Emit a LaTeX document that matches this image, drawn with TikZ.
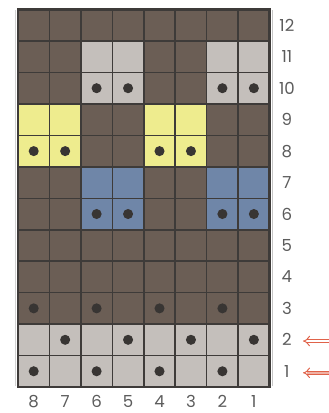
\documentclass[tikz,border=0pt]{standalone}
\usepackage{fontspec}
\setmainfont{Poppins}
\usetikzlibrary{arrows.meta}

\definecolor{barkbrown}{HTML}{6B5E55}
\definecolor{stonegray}{HTML}{C4BFBB}
\definecolor{lemon}{HTML}{EEEC8E}
\definecolor{slateblue}{HTML}{6F86A8}
\definecolor{gridink}{HTML}{3E3B39}
\definecolor{labelgray}{HTML}{5C5C5C}
\definecolor{arrowred}{HTML}{E0634A}

\tikzset{
  gridline/.style={gridink, line width=1.1pt},
  stitch/.style={fill=gridink!90!black},
  rowlabel/.style={text=labelgray, font=\fontsize{12}{14}\selectfont, inner sep=1pt, anchor=center},
  collabel/.style={text=labelgray, font=\fontsize{12}{14}\selectfont, inner sep=0.5pt, anchor=center},
  rowarrow/.style={arrowred, line width=0.7pt, double distance=1.9pt, -{Implies[length=5pt, width=9pt]}}
}

\begin{document}
\begin{tikzpicture}[scale=0.8]
    \useasboundingbox (-0.572,-0.827) rectangle (9.889,12.305);

    % Base colour
    \fill[barkbrown] (0,0) rectangle (8,12);

    % Gray blocks
    \fill[stonegray] (0,0) rectangle (8,2);
    \fill[stonegray] (2,9) rectangle (4,11);
    \fill[stonegray] (6,9) rectangle (8,11);

    % Yellow blocks
    \fill[lemon] (0,7) rectangle (2,9);
    \fill[lemon] (4,7) rectangle (6,9);

    % Blue blocks
    \fill[slateblue] (2,5) rectangle (4,7);
    \fill[slateblue] (6,5) rectangle (8,7);

    % Grid
    \draw[gridline] (0,0) grid (8,12);
    \draw[gridink, line width=1.7pt] (0,0) rectangle (8,12);
    \draw[gray!45, line width=0.8pt] (8.09,0.02) -- (8.09,12);
    \draw[gray!35, line width=0.6pt] (-0.07,0.02) -- (-0.07,12);

    % Dots
    \foreach \x in {2.5,3.5,6.5,7.5} {
        \fill[stitch] (\x,9.5) circle (0.16);
        \fill[stitch] (\x,5.5) circle (0.16);
    }
    \foreach \x in {0.5,1.5,4.5,5.5}
        \fill[stitch] (\x,7.5) circle (0.16);
    \foreach \x in {0.5,2.5,4.5,6.5} {
        \fill[stitch] (\x,2.5) circle (0.16);
        \fill[stitch] (\x,0.5) circle (0.16);
    }
    \foreach \x in {1.5,3.5,5.5,7.5}
        \fill[stitch] (\x,1.5) circle (0.16);

    % Row numbers
    \foreach \r in {1,...,12}
        \node[rowlabel] (r\r) at (8.55,\r-0.5) {\r};

    % Column numbers
    \foreach \c in {1,...,8}
        \node[collabel] (c\c) at (8.5-\c,-0.47) {\c};

    % Arrows
    \coordinate (a2) at (9.95,1.46);
    \coordinate (t2) at (9.06,1.46);
    \coordinate (a1) at (9.95,0.45);
    \coordinate (t1) at (9.06,0.45);
    \draw[rowarrow, double=white] (a2) -- (t2);
    \draw[rowarrow, double=arrowred!50] (a1) -- (t1);
\end{tikzpicture}
\end{document}
